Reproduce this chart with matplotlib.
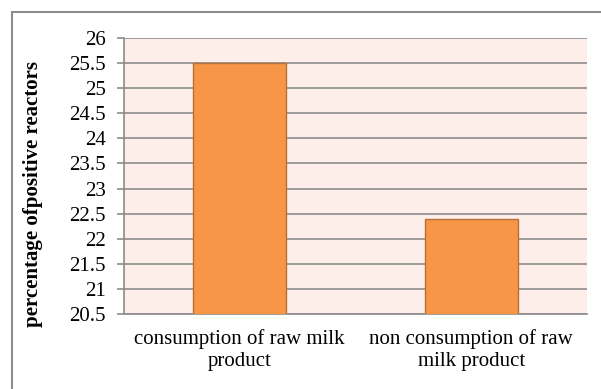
import matplotlib.pyplot as plt
from matplotlib.patches import Rectangle

categories = ["consumption of raw milk\nproduct", "non consumption of raw\nmilk product"]
values = [25.5, 22.4]
y_ticks = [20.5, 21, 21.5, 22, 22.5, 23, 23.5, 24, 24.5, 25, 25.5, 26]

plt.rcParams['font.family'] = ['Liberation Serif', 'DejaVu Serif']

fig = plt.figure(figsize=(6.01, 3.89), dpi=100)
ax = fig.add_axes([124 / 601, 1 - 314 / 389, 463 / 601, 276 / 389])
ax.set_facecolor('#FDEEE9')

# chart frame, only left and top edges fall inside the image
fig.patches.append(Rectangle((12 / 601, -0.1), 1.2, 1 - 12 / 389 + 0.1,
                             transform=fig.transFigure, fill=False,
                             edgecolor='#8C8C8C', linewidth=1.5, zorder=0))

x = range(len(categories))
ax.bar(x, values, width=0.4, color='#F79646',
       edgecolor='#B8713A', linewidth=1.0, zorder=3)

ax.set_xlim(-0.5, 1.5)
ax.set_ylim(20.5, 26)
ax.set_yticks(y_ticks)
ax.set_yticklabels([f"{t:g}" for t in y_ticks], fontsize=15)
ax.set_xticks(list(x))
ax.set_xticklabels(categories, fontsize=15, linespacing=1.2)
ax.tick_params(axis='x', length=0, pad=11)
ax.tick_params(axis='y', length=5, width=1.2, color='#8C8C8C', pad=8)

ax.yaxis.grid(True, color='#8C8C8C', linewidth=1.2, zorder=1)
ax.set_axisbelow(True)
for side in ['top', 'right']:
    ax.spines[side].set_visible(False)
ax.spines['left'].set_color('#8C8C8C')
ax.spines['left'].set_linewidth(1.2)
ax.spines['bottom'].set_color('#8C8C8C')
ax.spines['bottom'].set_linewidth(1.2)

ax.set_ylabel("percentage ofpositive reactors", fontsize=15, fontweight='bold')
ax.yaxis.set_label_coords(-0.175, 0.435)

fig.savefig('out.png', dpi=100, facecolor='white')
